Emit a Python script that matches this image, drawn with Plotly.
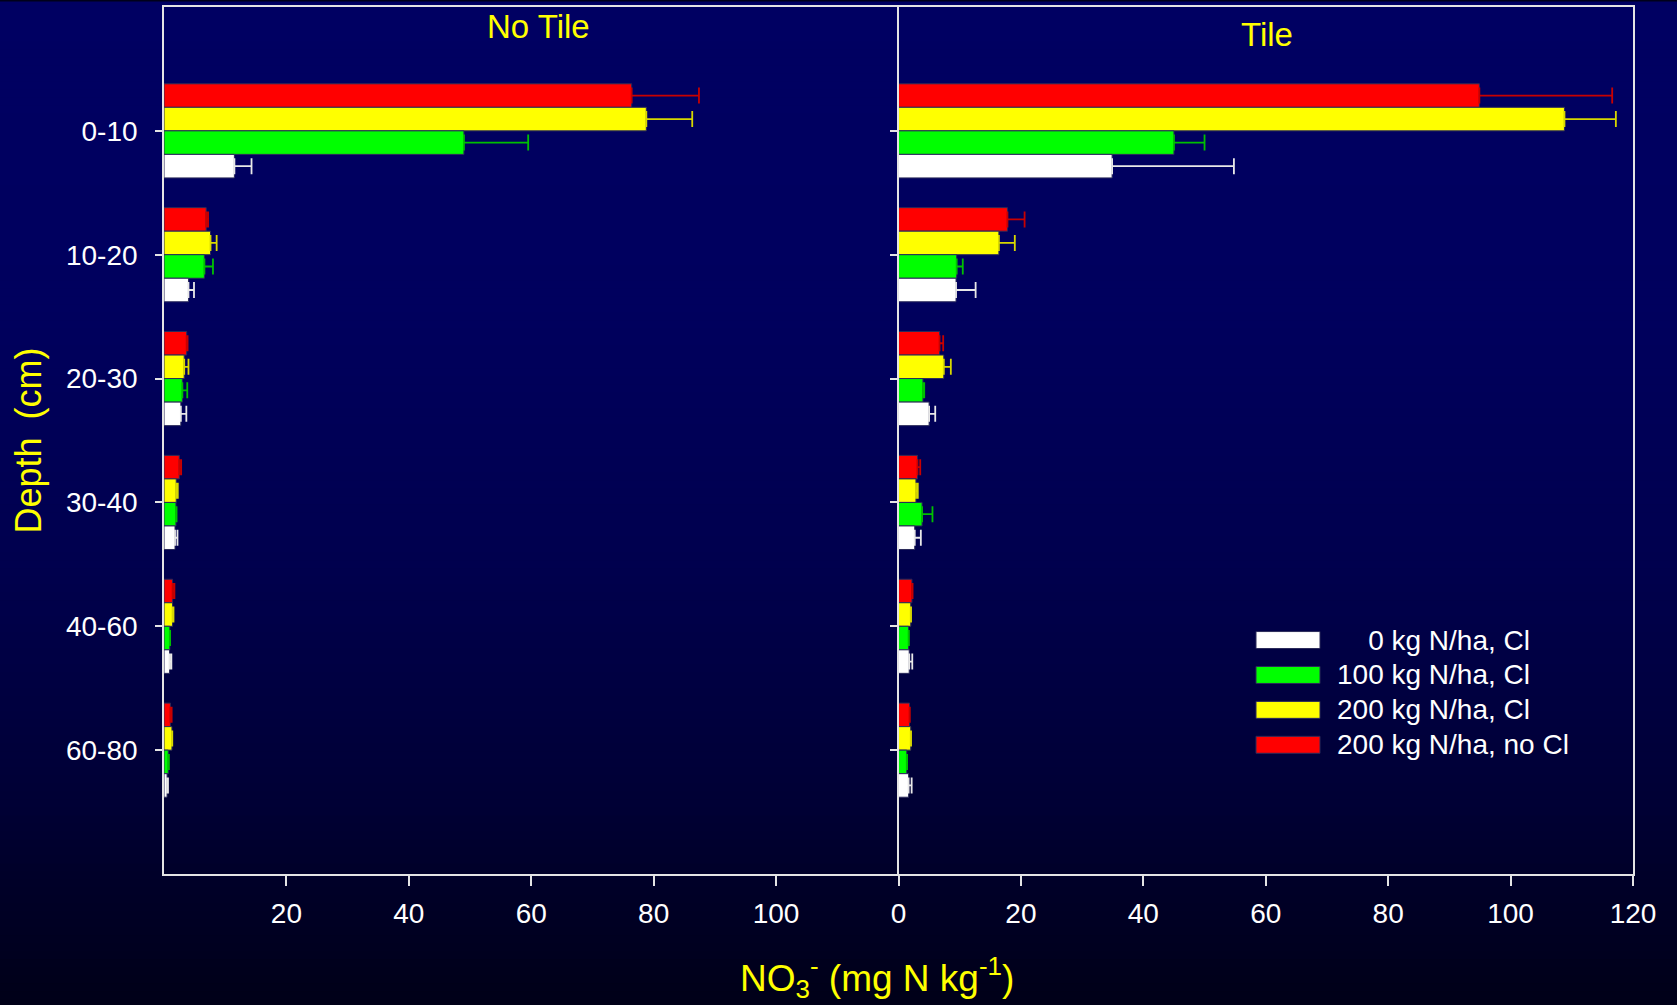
import plotly.graph_objects as go

depths = ["0-10", "10-20", "20-30", "30-40", "40-60", "60-80"]

series_names = ["200 kg N/ha, no Cl", "200 kg N/ha, Cl", "100 kg N/ha, Cl", "0 kg N/ha, Cl"]
legend_labels = ["\u2007\u20070 kg N/ha, Cl", "100 kg N/ha, Cl", "200 kg N/ha, Cl", "200 kg N/ha, no Cl"]

# No Tile panel values (mg N / kg) and error (+)
notile_red = [76.4, 6.9, 3.7, 2.5, 1.4, 1.05]
notile_red_err = [11.0, 0.3, 0.15, 0.3, 0.3, 0.2]
notile_yellow = [78.8, 7.6, 3.3, 2.0, 1.4, 1.3]
notile_yellow_err = [7.5, 1.0, 0.7, 0.25, 0.15, 0.05]
notile_green = [49.0, 6.6, 3.0, 1.95, 0.95, 0.7]
notile_green_err = [10.5, 1.4, 0.8, 0.1, 0.05, 0.1]
notile_white = [11.5, 4.0, 2.75, 1.8, 0.9, 0.5]
notile_white_err = [2.8, 0.9, 0.9, 0.4, 0.3, 0.15]

# Tile panel
tile_red = [94.9, 17.8, 6.7, 3.1, 2.2, 1.8]
tile_red_err = [21.7, 2.8, 0.6, 0.45, 0.1, 0.05]
tile_yellow = [108.8, 16.4, 7.4, 2.85, 2.0, 2.0]
tile_yellow_err = [8.4, 2.6, 1.15, 0.3, 0.05, 0.05]
tile_green = [45.0, 9.5, 4.0, 3.85, 1.65, 1.35]
tile_green_err = [5.0, 1.0, 0.2, 1.7, 0.05, 0.05]
tile_white = [34.9, 9.4, 5.0, 2.65, 1.75, 1.65]
tile_white_err = [19.9, 3.2, 1.0, 1.0, 0.5, 0.5]

left_ticks = [20, 40, 60, 80, 100]
right_ticks = [0, 20, 40, 60, 80, 100, 120]

bar_colors = ["#ff0000", "#ffff00", "#00ff00", "#ffffff"]
err_colors = ["#c80000", "#d8d800", "#00c000", "#e8e8e8"]

W, H = 1677, 1005
ML, MR, MT, MB = 164, 44, 5, 131
PW = W - ML - MR
PH = H - MT - MB


def px_x(p):
    return (p - ML) / PW


def px_y(p):
    return (H - MB - p) / PH


FONT = "Arial, 'Liberation Sans', Helvetica, sans-serif"

fig = go.Figure()

panels = [
    ("x", "y", [notile_red, notile_yellow, notile_green, notile_white],
     [notile_red_err, notile_yellow_err, notile_green_err, notile_white_err]),
    ("x2", "y2", [tile_red, tile_yellow, tile_green, tile_white],
     [tile_red_err, tile_yellow_err, tile_green_err, tile_white_err]),
]

for xa, ya, vals, errs in panels:
    for i in range(4):
        fig.add_trace(go.Bar(
            x=vals[i], y=depths, orientation="h", name=series_names[i],
            xaxis=xa, yaxis=ya, showlegend=False,
            marker=dict(color=bar_colors[i], line=dict(color="#2a2a5a", width=1)),
            error_x=dict(type="data", array=errs[i], arrayminus=[0] * 6, symmetric=False,
                         color=err_colors[i], thickness=1.8, width=8),
        ))

LINEC = "#e4e4e4"


def axis_style(mirror=True):
    return dict(showline=True, linecolor=LINEC, linewidth=1.6, mirror=mirror,
                ticks="outside", tickcolor=LINEC, tickwidth=1.6, showgrid=False,
                zeroline=False, tickfont=dict(color="white", size=28, family=FONT))


fig.update_layout(
    width=W, height=H,
    margin=dict(l=ML, r=MR, t=MT, b=MB),
    paper_bgcolor="#00001a",
    plot_bgcolor="rgba(0,0,0,0)",
    barmode="group", bargap=0.24, bargroupgap=0,
    font=dict(family=FONT, color="white"),
    showlegend=False,
    xaxis=dict(domain=[0, 0.5], range=[0, 120], tickvals=left_ticks, ticklen=10,
               anchor="y", ticklabelstandoff=4, **axis_style()),
    xaxis2=dict(domain=[0.5, 1], range=[0, 120], tickvals=right_ticks, ticklen=10,
                anchor="y2", ticklabelstandoff=4, **axis_style()),
    yaxis=dict(type="category", categoryorder="array", categoryarray=depths,
               range=[6, -1], ticklen=7, anchor="x", ticklabelstandoff=12,
               **axis_style(mirror=False)),
    yaxis2=dict(type="category", categoryorder="array", categoryarray=depths,
                range=[6, -1], ticklen=7, anchor="x2", matches="y", showticklabels=False,
                **axis_style()),
)

# background gradient stripes (paper coords, below everything)
stops = [(0, 98), (300, 94), (560, 78), (810, 52), (870, 42), (1005, 24)]


def blue_at(p):
    for (a, ca), (b, cb) in zip(stops[:-1], stops[1:]):
        if a <= p <= b:
            return ca + (cb - ca) * (p - a) / (b - a)
    return stops[-1][1]


shapes = []
step = 8
for top in range(0, H, step):
    bot = min(top + step, H)
    c = round(blue_at((top + bot) / 2))
    shapes.append(dict(type="rect", xref="paper", yref="paper", layer="below",
                       x0=px_x(0), x1=px_x(W), y0=px_y(bot + 0.5), y1=px_y(top - 0.5),
                       fillcolor=f"rgb(0,0,{c})", line=dict(width=0)))

# legend swatches
legend_order = [3, 2, 1, 0]
row_centers = [639.5, 674.5, 709.5, 744.5]
annotations = []
for r, idx in enumerate(legend_order):
    cy = row_centers[r]
    shapes.append(dict(type="rect", xref="paper", yref="paper", layer="above",
                       x0=px_x(1256), x1=px_x(1320), y0=px_y(cy + 8.5), y1=px_y(cy - 8.5),
                       fillcolor=bar_colors[idx], line=dict(color="#2a2a5a", width=1)))
    annotations.append(dict(xref="paper", yref="paper", x=px_x(1335), y=px_y(cy),
                            xanchor="left", yanchor="middle", showarrow=False,
                            text=legend_labels[r],
                            font=dict(color="white", size=28, family=FONT)))

annotations += [
    dict(xref="paper", yref="paper", x=px_x(538), y=px_y(25), xanchor="center",
         yanchor="middle", showarrow=False, text="No Tile",
         font=dict(color="#ffff00", size=33, family=FONT)),
    dict(xref="paper", yref="paper", x=px_x(1267), y=px_y(33), xanchor="center",
         yanchor="middle", showarrow=False, text="Tile",
         font=dict(color="#ffff00", size=33, family=FONT)),
    dict(xref="paper", yref="paper", x=px_x(28), y=0.5, xanchor="center",
         yanchor="middle", showarrow=False, textangle=-90, text="Depth\u2002(cm)",
         font=dict(color="#ffff00", size=36, family=FONT)),
    dict(xref="paper", yref="paper", x=px_x(877), y=px_y(978), xanchor="center",
         yanchor="middle", showarrow=False,
         text="NO<sub>3</sub><sup>-</sup> (mg N kg<sup>-1</sup>)",
         font=dict(color="#ffff00", size=37, family=FONT)),
]

fig.update_layout(shapes=shapes, annotations=annotations)

fig.write_html("out.html")
